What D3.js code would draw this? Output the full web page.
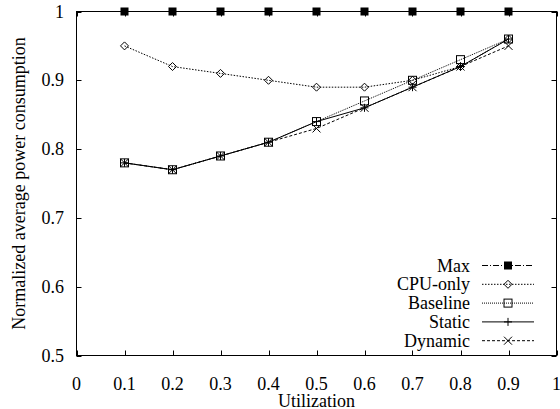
<!DOCTYPE html>
<html>
<head>
<meta charset="utf-8">
<script src="https://cdn.jsdelivr.net/npm/d3@7"></script>
<style>
  body { margin: 0; background: #fff; }
</style>
</head>
<body>
<svg id="chart" width="560" height="409"></svg>
<script>
var utilization = [0.1, 0.2, 0.3, 0.4, 0.5, 0.6, 0.7, 0.8, 0.9];
var maxPower      = [1.00, 1.00, 1.00, 1.00, 1.00, 1.00, 1.00, 1.00, 1.00];
var cpuOnlyPower  = [0.95, 0.92, 0.91, 0.90, 0.89, 0.89, 0.90, 0.92, 0.96];
var baselinePower = [0.78, 0.77, 0.79, 0.81, 0.84, 0.87, 0.90, 0.93, 0.96];
var staticPower   = [0.78, 0.77, 0.79, 0.81, 0.84, 0.86, 0.89, 0.92, 0.96];
var dynamicPower  = [0.78, 0.77, 0.79, 0.81, 0.83, 0.86, 0.89, 0.92, 0.95];
var xTicks = [0, 0.1, 0.2, 0.3, 0.4, 0.5, 0.6, 0.7, 0.8, 0.9, 1];
var yTicks = [0.5, 0.6, 0.7, 0.8, 0.9, 1];

var series = [
  {name: "Max",      values: maxPower,      dash: "6,2,1,2", marker: "fsquare"},
  {name: "CPU-only", values: cpuOnlyPower,  dash: "1.5,1.5", marker: "diamond"},
  {name: "Baseline", values: baselinePower, dash: "1,1",     marker: "square"},
  {name: "Static",   values: staticPower,   dash: null,      marker: "plus"},
  {name: "Dynamic",  values: dynamicPower,  dash: "3,2",     marker: "cross"}
];

var FONT = "Liberation Serif";
var FS = "18px";
var svg = d3.select("#chart");
var plotL = 76.5, plotR = 556.5, plotT = 11.5, plotB = 355.5;

var x = d3.scaleLinear().domain([0, 1]).range([plotL, plotR]);
var y = d3.scaleLinear().domain([0.5, 1]).range([plotB, plotT]);

function fmt(d){ return (d === 0 || d === 1) ? String(d) : d.toFixed(1); }

// ticks (inward, mirrored)
var tk = 5;
var ticks = svg.append("g").attr("stroke", "#000").attr("stroke-width", 1);
xTicks.forEach(function(t){
  var px = Math.round(x(t)) + 0.5;
  ticks.append("line").attr("x1", px).attr("x2", px).attr("y1", plotB).attr("y2", plotB - tk);
  ticks.append("line").attr("x1", px).attr("x2", px).attr("y1", plotT).attr("y2", plotT + tk);
});
yTicks.forEach(function(t){
  var py = Math.round(y(t)) + 0.5;
  ticks.append("line").attr("x1", plotL).attr("x2", plotL + tk).attr("y1", py).attr("y2", py);
  ticks.append("line").attr("x1", plotR).attr("x2", plotR - tk).attr("y1", py).attr("y2", py);
});

svg.append("g").selectAll("text").data(xTicks).enter().append("text")
  .attr("x", function(d){ return x(d); })
  .attr("y", 390)
  .attr("text-anchor", "middle")
  .style("font-family", FONT).style("font-size", FS)
  .text(fmt);

svg.append("g").selectAll("text").data(yTicks).enter().append("text")
  .attr("x", 64)
  .attr("y", function(d){ return y(d) + 6; })
  .attr("text-anchor", "end")
  .style("font-family", FONT).style("font-size", FS)
  .text(fmt);

svg.append("text")
  .attr("x", (plotL + plotR) / 2).attr("y", 407)
  .attr("text-anchor", "middle")
  .style("font-family", FONT).style("font-size", FS)
  .text("Utilization");

svg.append("text")
  .attr("transform", "translate(25," + ((plotT + plotB) / 2) + ") rotate(-90)")
  .attr("text-anchor", "middle")
  .style("font-family", FONT).style("font-size", FS)
  .text("Normalized average power consumption");

// lines
var line = d3.line()
  .x(function(d, i){ return x(utilization[i]); })
  .y(function(d){ return y(d); });

function drawMarker(g, type, cx, cy){
  var s = 4;
  if (type === "fsquare") {
    g.append("rect").attr("x", cx - s).attr("y", cy - s).attr("width", 2 * s).attr("height", 2 * s)
      .attr("fill", "#000");
  } else if (type === "square") {
    g.append("rect").attr("x", cx - s).attr("y", cy - s).attr("width", 2 * s).attr("height", 2 * s)
      .attr("fill", "none").attr("stroke", "#000");
  } else if (type === "diamond") {
    g.append("path").attr("d", "M" + cx + "," + (cy - s) + "L" + (cx + s) + "," + cy + "L" + cx + "," + (cy + s) + "L" + (cx - s) + "," + cy + "Z")
      .attr("fill", "none").attr("stroke", "#000");
  } else if (type === "plus") {
    g.append("path").attr("d", "M" + (cx - s) + "," + cy + "H" + (cx + s) + "M" + cx + "," + (cy - s) + "V" + (cy + s))
      .attr("stroke", "#000");
  } else if (type === "cross") {
    g.append("path").attr("d", "M" + (cx - s) + "," + (cy - s) + "L" + (cx + s) + "," + (cy + s) + "M" + (cx + s) + "," + (cy - s) + "L" + (cx - s) + "," + (cy + s))
      .attr("stroke", "#000");
  }
}

series.forEach(function(s){
  var g = svg.append("g");
  g.append("path").datum(s.values)
    .attr("d", line)
    .attr("fill", "none")
    .attr("stroke", "#000")
    .attr("stroke-width", 1)
    .attr("stroke-dasharray", s.dash);
  s.values.forEach(function(v, i){
    drawMarker(g, s.marker, x(utilization[i]), y(v));
  });
});

// frame
svg.append("rect")
  .attr("x", plotL).attr("y", plotT)
  .attr("width", plotR - plotL).attr("height", plotB - plotT)
  .attr("fill", "none").attr("stroke", "#000").attr("stroke-width", 1);

// legend
var legend = svg.append("g");
series.forEach(function(s, i){
  var ly = 265.5 + i * 18.8;
  legend.append("text")
    .attr("x", 470).attr("y", ly + 6)
    .attr("text-anchor", "end")
    .style("font-family", FONT).style("font-size", FS)
    .text(s.name);
  legend.append("line")
    .attr("x1", 482).attr("x2", 534).attr("y1", ly).attr("y2", ly)
    .attr("stroke", "#000").attr("stroke-dasharray", s.dash);
  drawMarker(legend, s.marker, 508, ly);
});
</script>
</body>
</html>
